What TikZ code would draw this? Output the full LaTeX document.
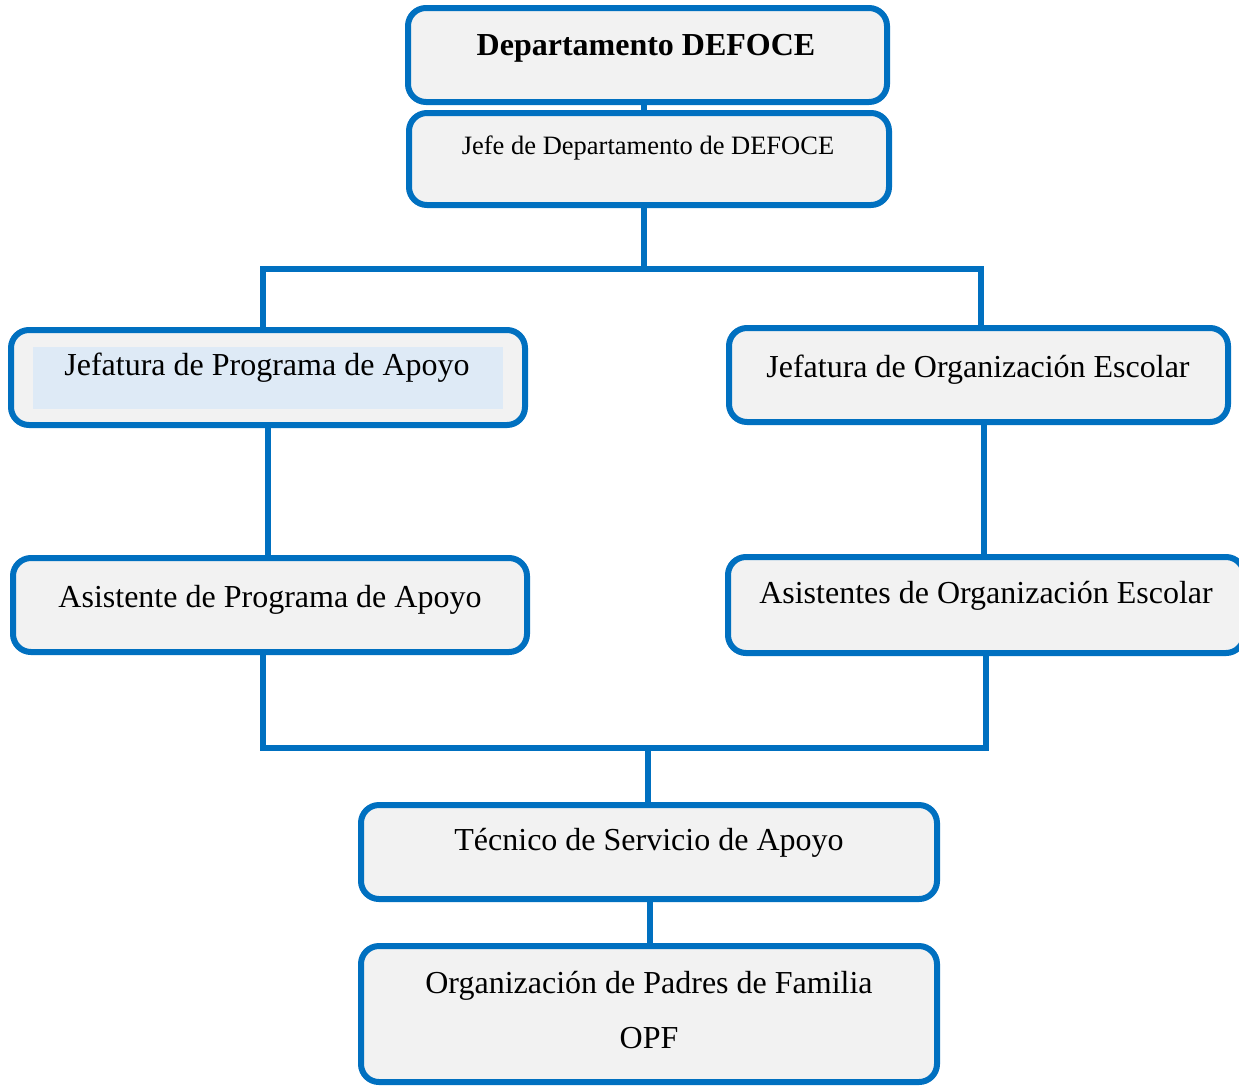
\documentclass[tikz,border=0pt]{standalone}
\usepackage{fontspec}
\setmainfont{Liberation Serif}
\definecolor{boxblue}{RGB}{0,112,192}
\definecolor{boxfill}{RGB}{242,242,242}
\definecolor{lightfill}{RGB}{222,234,246}
\tikzset{
  box/.style={draw=boxblue, fill=boxfill, line width=6pt, rounded corners=18pt, rectangle, inner sep=0pt},
  conn/.style={draw=boxblue, line width=5.5pt},
  lbl/.style={anchor=base, inner sep=0pt, font=\fontsize{32}{38}\selectfont},
  small/.style={anchor=base, inner sep=0pt, font=\fontsize{26.5}{32}\selectfont}
}
\begin{document}
\begin{tikzpicture}[x=1pt,y=-1pt]
\fill[white] (0,0) rectangle (1239,1085);
\clip (0,0) rectangle (1239,1085);
% boxes
\node[box, minimum width=479pt, minimum height=94pt] (b1) at (647.5,55) {};
\node[box, minimum width=480pt, minimum height=92pt] (b2) at (649,159) {};
\node[box, minimum width=514pt, minimum height=95pt] (b3) at (268,377.5) {};
\node[box, minimum width=499pt, minimum height=94pt] (b4) at (978.5,375) {};
\node[box, minimum width=514pt, minimum height=94pt] (b5) at (270,605) {};
\node[box, minimum width=516pt, minimum height=96pt] (b6) at (986,605) {};
\node[box, minimum width=576pt, minimum height=94pt] (b7) at (649,852) {};
\node[box, minimum width=576pt, minimum height=136pt] (b8) at (649,1014) {};
% light highlight inside b3
\fill[lightfill] (33,347) rectangle (503,409);
% labels
\node[lbl, font=\bfseries\fontsize{32}{38}\selectfont] (t1) at (646,55) {Departamento DEFOCE};
\node[small] (t2) at (648,154) {Jefe de Departamento de DEFOCE};
\node[lbl] (t3) at (267,375) {Jefatura de Programa de Apoyo};
\node[lbl] (t4) at (978,377) {Jefatura de Organización Escolar};
\node[lbl] (t5) at (270,607) {Asistente de Programa de Apoyo};
\node[lbl] (t6) at (986,603) {Asistentes de Organización Escolar};
\node[lbl] (t7) at (649,850) {Técnico de Servicio de Apoyo};
\node[lbl] (t8) at (649,993) {Organización de Padres de Familia};
\node[lbl] (t9) at (649,1048) {OPF};
% connector coordinates
\coordinate (tm) at (644,269);
\coordinate (tl) at (263,269);
\coordinate (tr) at (981,269);
\coordinate (lm) at (268,490);
\coordinate (rm) at (984,490);
\coordinate (bl) at (263,748);
\coordinate (br) at (986,748);
\coordinate (bm) at (648,748);
\coordinate (cm) at (650,922);
% connectors
\draw[conn] (b1.south -| tm) -- (b2.north -| tm);
\draw[conn] (b2.south -| tm) -- (tm);
\draw[conn] (b3.north -| tl) -- (tl) -- (tr) -- (b4.north -| tr);
\draw[conn] (b3.south -| lm) -- (b5.north -| lm);
\draw[conn] (b4.south -| rm) -- (b6.north -| rm);
\draw[conn] (b5.south -| bl) -- (bl) -- (br) -- (b6.south -| br);
\draw[conn] (bm) -- (b7.north -| bm);
\draw[conn] (b7.south -| cm) -- (b8.north -| cm);
\end{tikzpicture}
\end{document}
